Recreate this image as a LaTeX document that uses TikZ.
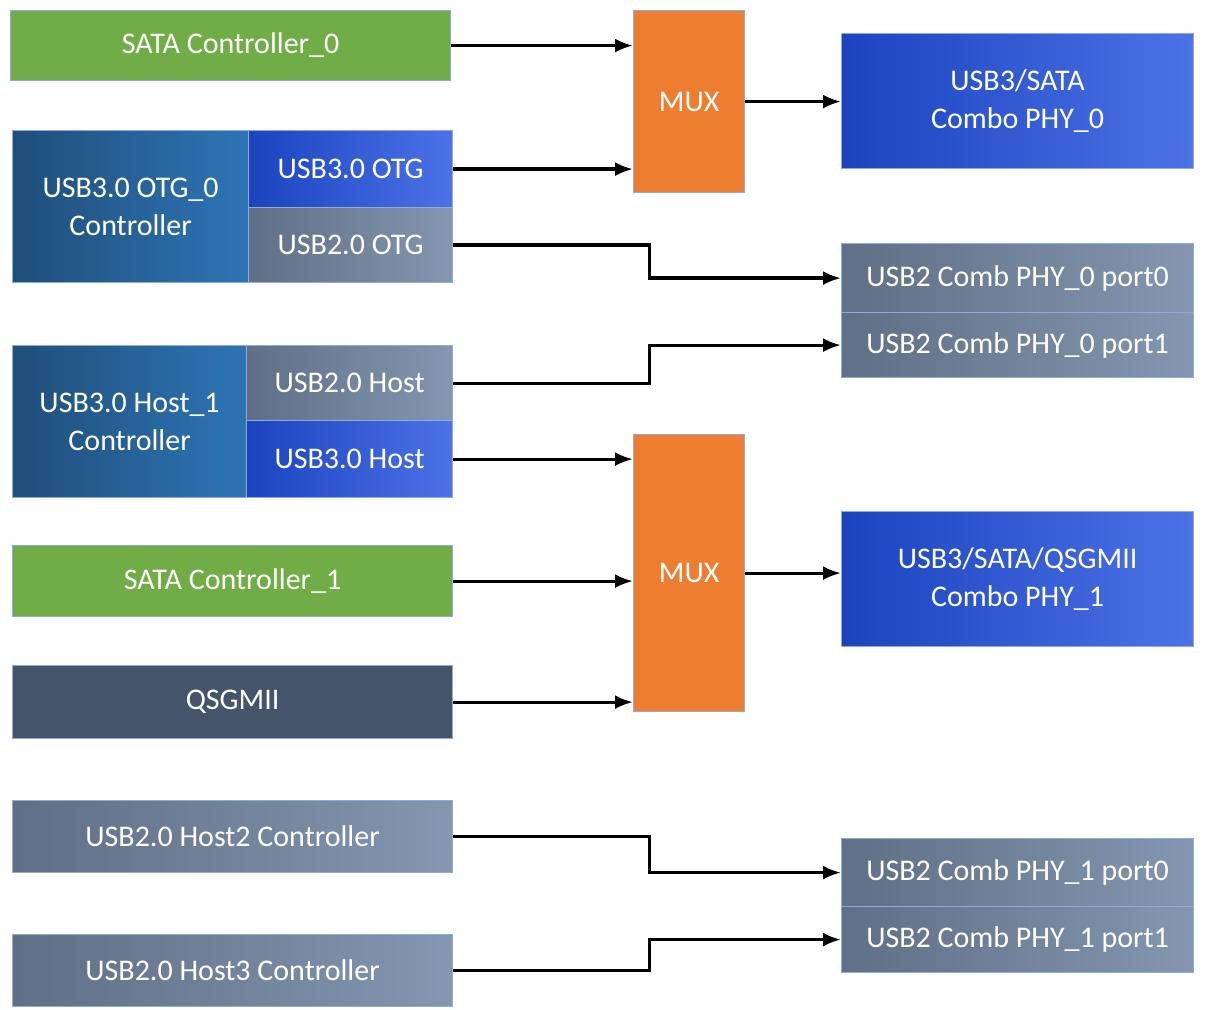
\documentclass[tikz,border=0pt]{standalone}
\usepackage{fontspec}
\setmainfont{Carlito}
\usetikzlibrary{calc,positioning,arrows.meta}
\definecolor{satagreen}{HTML}{70AD47}
\definecolor{muxorange}{HTML}{ED7D31}
\definecolor{phyblue}{HTML}{1F4FE0}
\definecolor{ctrldark}{HTML}{1F4E79}
\definecolor{ctrllight}{HTML}{2E75B6}
\definecolor{usbgray}{HTML}{5F6F86}
\definecolor{usbgraylt}{HTML}{8496B0}
\definecolor{qsgslate}{HTML}{44546A}
\definecolor{edgeblue}{HTML}{8FAADC}
\tikzset{
  blk/.style={draw=edgeblue, line width=0.6pt, text=white, anchor=north west,
    inner sep=0pt, align=center, font=\fontsize{15}{19}\selectfont},
  green/.style={blk, fill=satagreen},
  orange/.style={blk, fill=muxorange},
  blue/.style={blk, left color=phyblue!85!black, right color=phyblue!80!white},
  ctrl/.style={blk, left color=ctrldark, right color=ctrllight},
  gray/.style={blk, left color=usbgray, right color=usbgraylt},
  slate/.style={blk, fill=qsgslate},
  link/.style={-{Latex[length=9pt,width=7pt]}, line width=1.6pt},
}
\begin{document}
\begin{tikzpicture}[x=0.5pt, y=-0.5pt]
\useasboundingbox (0,0) rectangle (1208,1010);
% left column
\node [green, minimum width=220pt, minimum height=35pt] (sata0) at (10,10) {SATA Controller\_0};
\node [ctrl, minimum width=118pt, minimum height=76pt] (otgc) at (12,130) {USB3.0 OTG\_0\\Controller};
\node [blue, minimum width=102pt, minimum height=38.5pt] (otg3) at (248,130) {USB3.0 OTG};
\node [gray, minimum width=102pt, minimum height=37.5pt] (otg2) at (248,207) {USB2.0 OTG};
\node [ctrl, minimum width=117pt, minimum height=76pt] (hostc) at (12,345) {USB3.0 Host\_1\\Controller};
\node [gray, minimum width=103pt, minimum height=37.5pt] (host2) at (246,345) {USB2.0 Host};
\node [blue, minimum width=103pt, minimum height=38.5pt] (host3) at (246,420) {USB3.0 Host};
\node [green, minimum width=220pt, minimum height=35.5pt] (sata1) at (12,545) {SATA Controller\_1};
\node [slate, minimum width=220pt, minimum height=36.5pt] (qsg) at (12,665) {QSGMII};
\node [gray, minimum width=220pt, minimum height=36pt] (hosttwo) at (12,800) {USB2.0 Host2 Controller};
\node [gray, minimum width=220pt, minimum height=36pt] (hostthree) at (12,934) {USB2.0 Host3 Controller};
% muxes
\node [orange, minimum width=55.5pt, minimum height=91pt] (mux0) at (633,10) {MUX};
\node [orange, minimum width=55.5pt, minimum height=138.5pt] (mux1) at (633,434) {MUX};
% phys
\node [blue, minimum width=176pt, minimum height=67.5pt] (phy0) at (841,33) {USB3/SATA\\Combo PHY\_0};
\node [gray, minimum width=176pt, minimum height=34.5pt] (pa0) at (841,243) {USB2 Comb PHY\_0 port0};
\node [gray, minimum width=176pt, minimum height=32.5pt] (pa1) at (841,312) {USB2 Comb PHY\_0 port1};
\node [blue, minimum width=176pt, minimum height=67.5pt] (phy1) at (841,511) {USB3/SATA/QSGMII\\Combo PHY\_1};
\node [gray, minimum width=176pt, minimum height=34pt] (pb0) at (841,838) {USB2 Comb PHY\_1 port0};
\node [gray, minimum width=176pt, minimum height=33pt] (pb1) at (841,906) {USB2 Comb PHY\_1 port1};
% links
\draw [link] (sata0.east) -- (sata0.east -| mux0.west);
\draw [link] (otg3.east) -- (otg3.east -| mux0.west);
\draw [link] (mux0.east) -- (mux0.east -| phy0.west);
\draw [link] (otg2.east) -- ++(196,0) |- (pa0.west);
\draw [link] (host2.east) -- ++(196,0) |- (pa1.west);
\draw [link] (host3.east) -- (host3.east -| mux1.west);
\draw [link] (sata1.east) -- (sata1.east -| mux1.west);
\draw [link] (qsg.east) -- (qsg.east -| mux1.west);
\draw [link] (mux1.east) -- (mux1.east -| phy1.west);
\draw [link] (hosttwo.east) -- ++(196,0) |- (pb0.west);
\draw [link] (hostthree.east) -- ++(196,0) |- (pb1.west);
\end{tikzpicture}
\end{document}
